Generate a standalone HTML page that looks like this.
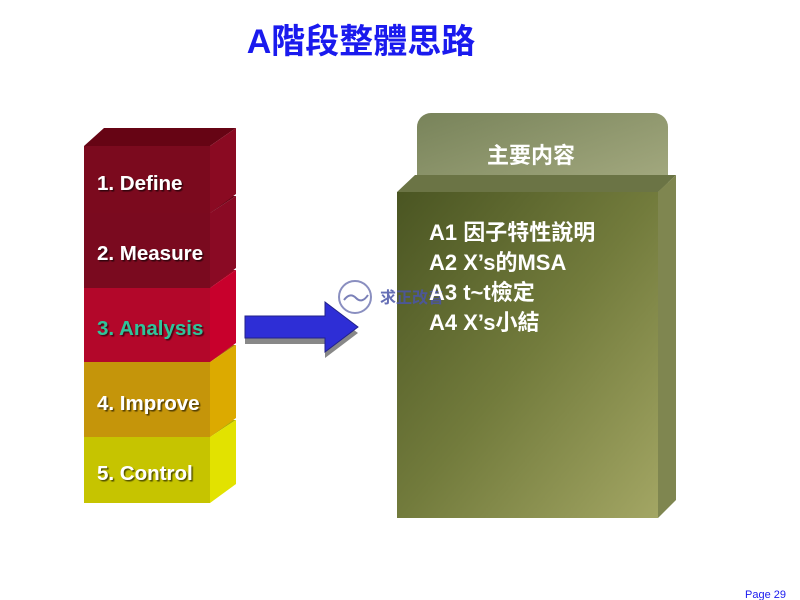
<!DOCTYPE html>
<html><head><meta charset="utf-8"><style>
body{margin:0;background:#fff;}
svg{display:block;}
.t{font-family:"Liberation Sans","Noto Sans CJK TC",sans-serif;font-weight:bold;}
</style></head><body>
<svg width="800" height="600" viewBox="0 0 800 600" xmlns="http://www.w3.org/2000/svg">
<defs>
<linearGradient id="tab" x1="0" y1="0" x2="1" y2="1"><stop offset="0" stop-color="#78835a"/><stop offset="1" stop-color="#a9ae84"/></linearGradient>
<linearGradient id="front" x1="0" y1="0" x2="1" y2="1"><stop offset="0" stop-color="#4a5522"/><stop offset="0.5" stop-color="#727b3c"/><stop offset="1" stop-color="#a3a664"/></linearGradient>
<filter id="sh"><feDropShadow dx="1.5" dy="1.5" stdDeviation="0.6" flood-color="#000" flood-opacity="0.6"/></filter>
</defs>
<text x="361" y="53" text-anchor="middle" class="t" font-size="34" fill="#1a1aee">A階段整體思路</text>

<polygon points="84,437 104,420 236,420 210,437" fill="#b2b000"/>
<polygon points="210,437 236,420 236,484 210,503" fill="#e2e200"/>
<rect x="84" y="437" width="126" height="66" fill="#c6c400"/>
<polygon points="84,362 104,345 236,345 210,362" fill="#b08206"/>
<polygon points="210,362 236,345 236,418 210,437" fill="#dcaa00"/>
<rect x="84" y="362" width="126" height="75" fill="#c5950a"/>
<polygon points="84,288 104,270 236,270 210,288" fill="#a00520"/>
<polygon points="210,288 236,270 236,343 210,362" fill="#c8002c"/>
<rect x="84" y="288" width="126" height="74" fill="#b3072a"/>
<polygon points="84,213 104,196 236,196 210,213" fill="#6a0517"/>
<polygon points="210,213 236,196 236,268 210,288" fill="#8a0a24"/>
<rect x="84" y="213" width="126" height="75" fill="#7a0a1f"/>
<polygon points="84,146 104,128 236,128 210,146" fill="#660414"/>
<polygon points="210,146 236,128 236,194 210,213" fill="#8a0a22"/>
<rect x="84" y="146" width="126" height="67" fill="#7b0a1e"/>

<g class="t" font-size="20.5" filter="url(#sh)">
<text x="97" y="190" fill="#fff">1. Define</text>
<text x="97" y="260" fill="#fff">2. Measure</text>
<text x="97" y="335" fill="#2ec49a">3. Analysis</text>
<text x="97" y="410" fill="#fff">4. Improve</text>
<text x="97" y="480" fill="#fff">5. Control</text>
</g>

<polygon points="245,322 325,322 325,309 358,333 325,358 325,344 245,344" fill="#888"/>
<polygon points="245,316 325,316 325,302 358,327 325,352 325,338 245,338" fill="#2e2ed6" stroke="#22228a" stroke-width="1"/>

<circle cx="355" cy="297" r="16" fill="#fff" fill-opacity="0.6" stroke="#8a8fc0" stroke-width="2"/>
<path d="M344,300 q6,-8 12,-2 q6,6 12,-3" stroke="#7a80b8" stroke-width="2" fill="none"/>

<rect x="417" y="113" width="251" height="90" rx="14" fill="url(#tab)"/>
<text x="531" y="163" text-anchor="middle" class="t" font-size="22" fill="#fff">主要内容</text>
<polygon points="397,192 415,175 676,175 658,192" fill="#6b7445"/>
<polygon points="658,192 676,175 676,500 658,518" fill="#7f8650"/>
<rect x="397" y="192" width="261" height="326" fill="url(#front)"/>
<text x="380" y="303" class="t" font-size="16" fill="#4a55a8" fill-opacity="0.85">求正改善</text>
<g class="t" font-size="22" fill="#fff">
<text x="429" y="240">A1 因子特性說明</text>
<text x="429" y="270">A2 X’s的MSA</text>
<text x="429" y="300">A3 t~t檢定</text>
<text x="429" y="330">A4 X’s小結</text>
</g>
<text x="745" y="598" font-family="Liberation Sans,sans-serif" font-size="11" fill="#1a1aee">Page 29</text>
</svg>
</body></html>
